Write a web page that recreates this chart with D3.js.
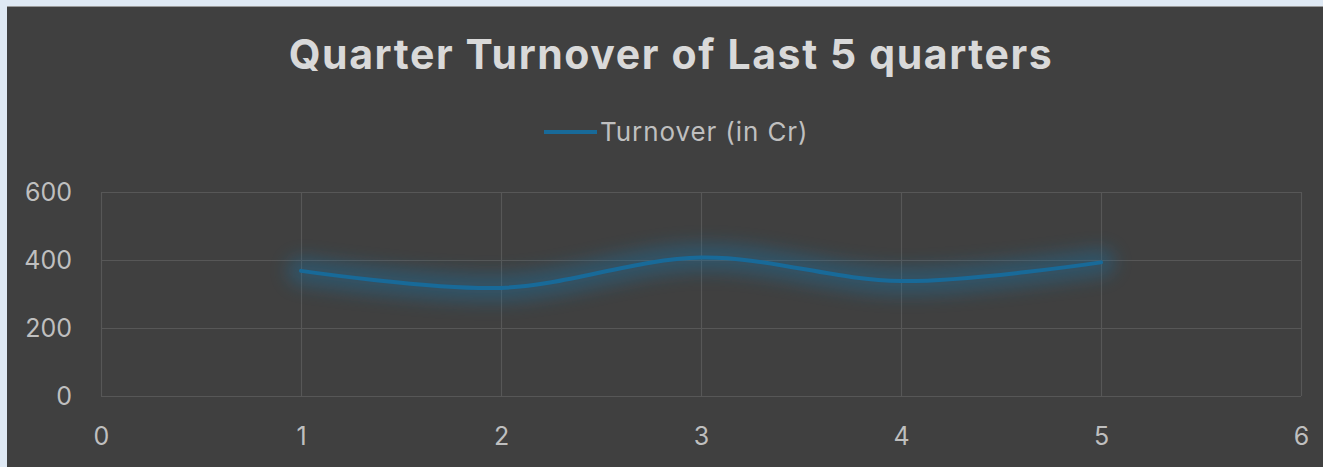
<!DOCTYPE html>
<html>
<head>
<meta charset="utf-8">
<script src="https://cdn.jsdelivr.net/npm/d3@7"></script>
<style>
  html, body { margin: 0; padding: 0; background: #dfe9f4; }
  svg { display: block; }
  .tick text { font-family: Inter, "Open Sans", sans-serif; }
</style>
</head>
<body>
<svg id="chart" width="1323" height="467"></svg>
<script>
'use strict';

// data
const quarters = [1, 2, 3, 4, 5];
const turnover = [368, 318, 407, 338, 393];
const xTicks = [0, 1, 2, 3, 4, 5, 6];
const yTicks = [0, 200, 400, 600];
const seriesName = 'Turnover (in Cr)';
const title = 'Quarter Turnover of Last 5 quarters';

const W = 1323;
const H = 467;
const lineColor = '#186a99';
const gridColor = '#575757';
const labelColor = '#bfbfbf';

const svg = d3.select('#chart');

const defs = svg.append('defs');
const glow = defs
  .append('filter')
  .attr('id', 'glow')
  .attr('x', '-10%')
  .attr('y', '-200%')
  .attr('width', '120%')
  .attr('height', '500%');
glow.append('feGaussianBlur').attr('stdDeviation', 9);

// outer background + chart area
svg
  .append('rect')
  .attr('x', 7)
  .attr('y', 6)
  .attr('width', W - 7)
  .attr('height', H - 6)
  .attr('fill', '#404040');
svg
  .append('line')
  .attr('x1', 7)
  .attr('x2', W)
  .attr('y1', 6.5)
  .attr('y2', 6.5)
  .attr('stroke', '#9a9a9a')
  .attr('stroke-width', 1);

const x = d3.scaleLinear().domain([0, 6]).range([101, 1301]);
const y = d3.scaleLinear().domain([0, 600]).range([396, 192]);

// gridlines
const grid = svg.append('g').attr('stroke', gridColor).attr('stroke-width', 1.2);
grid
  .selectAll('.v')
  .data(xTicks)
  .enter()
  .append('line')
  .attr('x1', (d) => Math.round(x(d)) + 0.5)
  .attr('x2', (d) => Math.round(x(d)) + 0.5)
  .attr('y1', y(600))
  .attr('y2', y(0));
grid
  .selectAll('.h')
  .data(yTicks)
  .enter()
  .append('line')
  .attr('x1', x(0))
  .attr('x2', x(6))
  .attr('y1', (d) => Math.round(y(d)) + 0.5)
  .attr('y2', (d) => Math.round(y(d)) + 0.5);

// axes
const yAxis = svg
  .append('g')
  .attr('transform', `translate(${x(0)},0)`)
  .call(d3.axisLeft(y).tickValues(yTicks).tickSize(0).tickPadding(29));
const xAxis = svg
  .append('g')
  .attr('transform', `translate(0,${y(0)})`)
  .call(
    d3
      .axisBottom(x)
      .tickValues(xTicks)
      .tickFormat(d3.format('d'))
      .tickSize(0)
      .tickPadding(31)
  );
[yAxis, xAxis].forEach((a) => {
  a.select('.domain').remove();
  a.selectAll('text').attr('fill', labelColor).style('font-size', '25px');
});

// series
const pts = quarters.map((q, i) => [q, turnover[i]]);
const line = d3
  .line()
  .x((d) => x(d[0]))
  .y((d) => y(d[1]))
  .curve(d3.curveCatmullRom.alpha(0.5));

// soft glow under the line
svg
  .append('path')
  .attr('d', line(pts))
  .attr('fill', 'none')
  .attr('stroke', '#1f6f9e')
  .attr('stroke-width', 28)
  .attr('stroke-linecap', 'round')
  .attr('opacity', 0.42)
  .attr('filter', 'url(#glow)');
svg
  .append('path')
  .attr('d', line(pts))
  .attr('fill', 'none')
  .attr('stroke', lineColor)
  .attr('stroke-width', 4)
  .attr('stroke-linecap', 'round');

// title
svg
  .append('text')
  .attr('x', 671)
  .attr('y', 69)
  .attr('text-anchor', 'middle')
  .attr('fill', '#d9d9d9')
  .style('font-family', 'Inter, "Open Sans", sans-serif')
  .style('font-weight', 700)
  .style('font-size', '41px')
  .style('letter-spacing', '1.6px')
  .text(title);

// legend
const legend = svg.append('g');
legend
  .append('line')
  .attr('x1', 544)
  .attr('x2', 597)
  .attr('y1', 132)
  .attr('y2', 132)
  .attr('stroke', lineColor)
  .attr('stroke-width', 4);
legend
  .append('text')
  .attr('x', 600)
  .attr('y', 141)
  .attr('fill', labelColor)
  .style('font-family', 'Inter, "Open Sans", sans-serif')
  .style('font-size', '26px')
  .style('letter-spacing', '0.9px')
  .text(seriesName);
</script>
</body>
</html>
